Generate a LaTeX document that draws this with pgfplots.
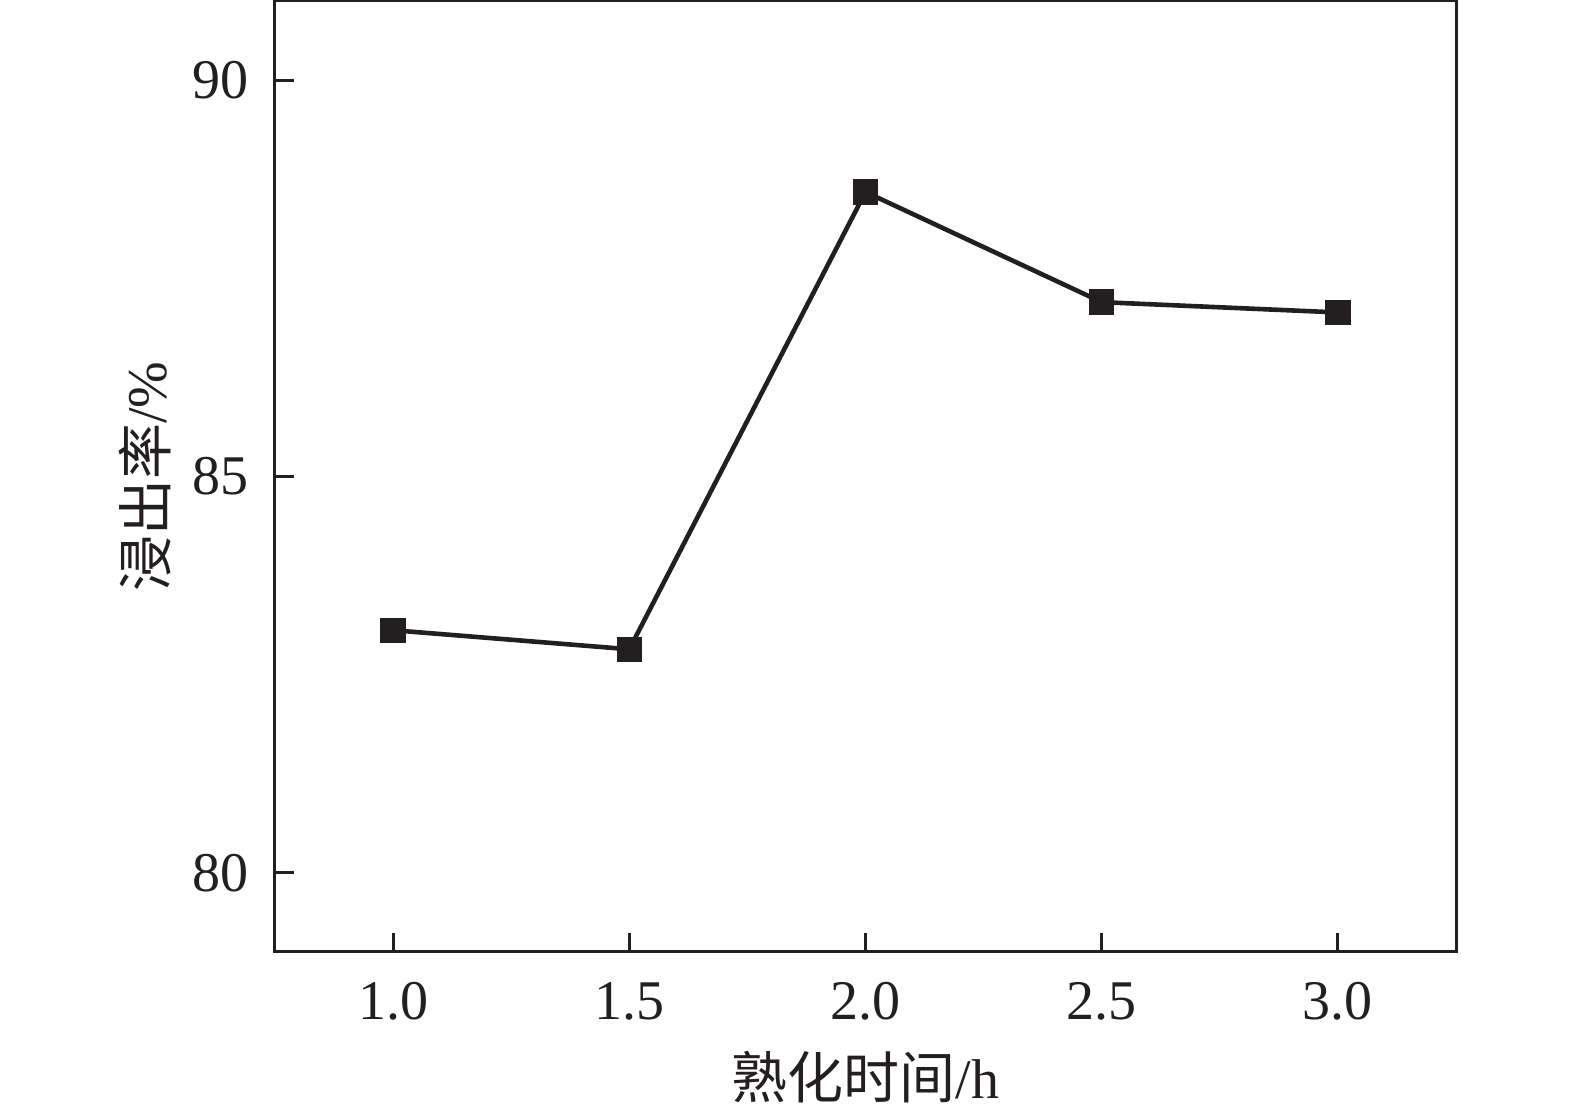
\documentclass[border=0pt]{standalone}
\usepackage{pgfplots}
\pgfplotsset{compat=1.18}
\usepackage{fontspec}
\setmainfont{Liberation Serif}
\newfontfamily\cjk{Noto Sans CJK SC}
\definecolor{ink}{HTML}{231F20}
\begin{document}
\begin{tikzpicture}
\path[use as bounding box] (0,0) rectangle (393.75pt,278.5pt);
\begin{axis}[
  at={(68.75pt,40.5pt)}, anchor=south west,
  scale only axis,
  width=295.25pt, height=237.75pt,
  xmin=0.75, xmax=3.25, ymin=79, ymax=91,
  xtick={1.0,1.5,2.0,2.5,3.0},
  xticklabels={1.0,1.5,2.0,2.5,3.0},
  ytick={80,85,90},
  tick align=inside,
  major tick length=4.75pt,
  xtick pos=bottom, ytick pos=left,
  axis line style={ink, line width=0.75pt},
  every tick/.style={ink, line width=0.75pt},
  tick label style={font=\fontsize{14}{14}\selectfont, text=ink},
  /pgf/number format/assume math mode=true,
  xticklabel style={yshift=-4pt},
  yticklabel style={xshift=-3pt},
  xlabel={{\cjk 熟化时间}/h},
  ylabel={{\cjk 浸出率}/\%},
  label style={font=\fontsize{14}{14}\selectfont, text=ink},
  xlabel style={yshift=-1pt},
  ylabel style={yshift=-1.5pt},
]
\addplot[ink, line width=1.15pt, mark=square*, mark size=2.6pt, mark options={fill=ink, draw=ink}]
coordinates {(1.0,83.06) (1.5,82.82) (2.0,88.59) (2.5,87.20) (3.0,87.07)};
\end{axis}
\end{tikzpicture}
\end{document}
